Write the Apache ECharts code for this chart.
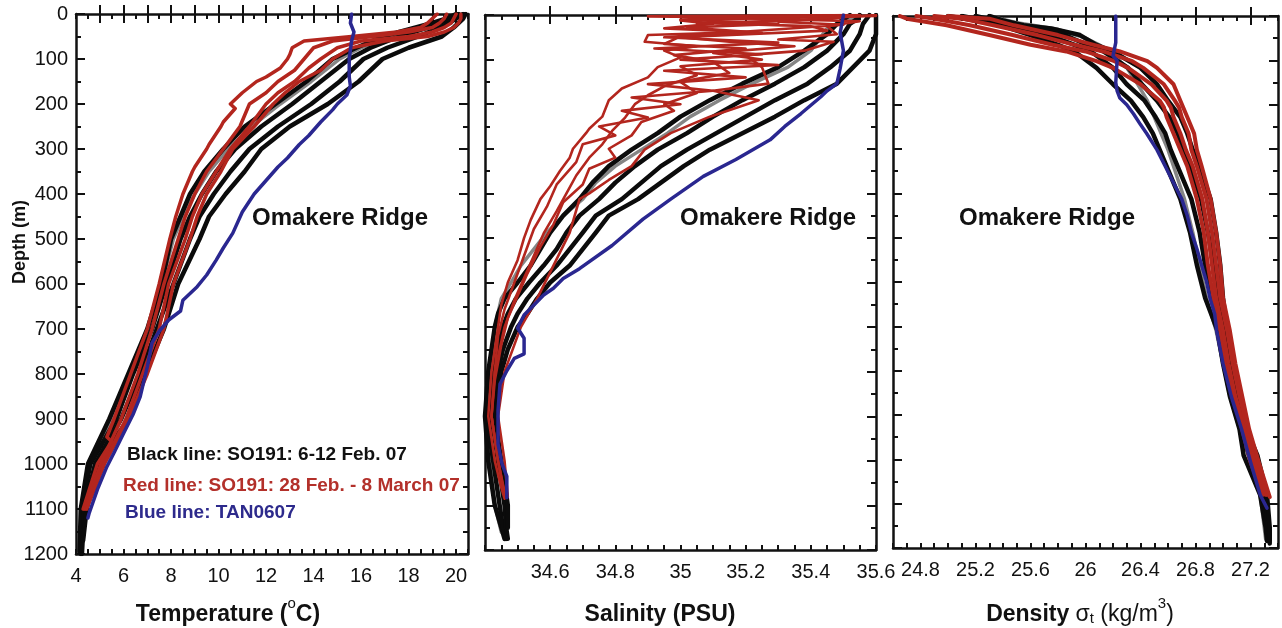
<!DOCTYPE html>
<html>
<head>
<meta charset="utf-8">
<script src="https://cdn.jsdelivr.net/npm/echarts@6/dist/echarts.min.js"></script>
<style>
  html, body { margin: 0; padding: 0; background: #fff; }
  #chart { width: 1282px; height: 628px; }
</style>
</head>
<body>
<div id="chart"></div>
<script>
// CTD profiles off Omakere Ridge. Every point is [value, depth in m].

// ---- Temperature (°C) ----
const tempBlack1 = [[20.0,0],[19.6,10],[19.0,20],[18.3,30],[16.9,50],[15.8,75],[14.8,100],[13.7,150],[12.4,200],[11.1,250],[10.2,300],[9.4,350],[8.8,400],[8.4,450],[8.0,500],[7.6,600],[7.0,700],[6.2,800],[5.4,900],[4.5,1000],[4.2,1100],[4.15,1195]];
const tempBlack2 = [[20.1,0],[19.8,10],[19.3,20],[18.8,30],[17.6,50],[16.4,75],[15.5,100],[14.3,150],[13.1,200],[11.8,250],[10.7,300],[9.9,350],[9.3,400],[8.8,450],[8.4,500],[7.8,600],[7.2,700],[6.4,800],[5.7,900],[4.6,1000],[4.25,1100],[4.2,1200]];
const tempBlack3 = [[20.3,0],[20.0,10],[19.7,20],[19.3,30],[18.4,50],[17.1,75],[16.1,100],[15.1,150],[13.9,200],[12.5,250],[11.3,300],[10.5,350],[9.8,400],[9.2,450],[8.8,500],[8.1,600],[7.4,700],[6.7,800],[5.9,900],[4.8,1000],[4.35,1100],[4.25,1200]];
const tempBlack4 = [[20.4,0],[20.3,10],[20.1,20],[19.9,30],[19.4,50],[18.0,75],[16.9,100],[15.9,150],[14.6,200],[13.0,250],[11.8,300],[11.1,350],[10.3,400],[9.6,450],[9.2,500],[8.3,600],[7.7,700],[6.9,800],[6.2,900],[4.9,1000],[4.45,1100],[4.3,1170]];
const tempGray = [[20.2,0],[19.4,20],[18.4,35],[17.2,50],[16.0,75],[15.1,100],[13.9,150],[12.6,200],[11.4,250],[10.4,300],[9.6,350],[9.0,400],[8.5,450],[8.1,500],[7.6,600],[7.1,700],[6.3,800],[5.5,900],[4.6,1000],[4.25,1100],[4.2,1180]];
const tempRed1 = [[19.2,0],[19.0,10],[18.8,20],[18.5,30],[17.5,40],[15.6,50],[13.6,60],[13.1,75],[13.0,90],[12.9,100],[12.6,120],[12.0,140],[11.6,150],[11.0,175],[10.5,200],[10.7,210],[10.2,240],[10.1,250],[9.6,290],[9.5,300],[9.0,340],[8.9,350],[8.5,400],[8.2,450],[7.95,500],[7.5,600],[7.0,700],[6.3,800],[5.6,900],[5.3,940],[5.5,950],[4.9,1000],[4.3,1100]];
const tempRed2 = [[19.6,0],[19.5,10],[19.3,20],[19.0,30],[18.0,40],[16.5,50],[14.8,60],[14.0,75],[13.6,100],[13.2,125],[12.5,150],[12.0,175],[11.3,200],[10.9,250],[10.2,300],[9.5,350],[9.0,400],[8.6,450],[8.3,500],[7.7,600],[7.2,700],[6.6,800],[5.9,900],[5.05,1000],[4.35,1100]];
const tempRed3 = [[20.0,0],[19.9,10],[19.8,20],[19.5,30],[19.0,40],[18.0,50],[16.0,60],[15.0,75],[14.3,100],[13.8,120],[13.2,150],[12.5,175],[12.0,200],[11.3,250],[10.5,300],[9.9,350],[9.3,400],[8.9,450],[8.6,500],[7.9,600],[7.5,700],[6.8,800],[6.1,900],[5.15,1000],[4.4,1100]];
const tempRed4 = [[20.2,0],[20.2,10],[20.1,20],[19.9,30],[19.5,40],[18.8,50],[17.0,60],[15.6,75],[14.8,100],[14.3,125],[13.4,150],[12.8,175],[12.3,200],[11.5,250],[10.6,300],[10.1,350],[9.5,400],[9.1,450],[8.8,500],[8.1,600],[7.7,700],[7.0,800],[6.2,900],[5.2,1000],[4.45,1100]];
const tempBlue = [[15.6,0],[15.55,20],[15.7,40],[15.6,60],[15.55,80],[15.5,100],[15.5,120],[15.5,140],[15.55,160],[15.4,180],[15.0,200],[14.8,213],[14.3,240],[13.8,270],[13.4,290],[12.9,320],[12.5,340],[12.0,370],[11.5,400],[11.0,440],[10.6,487],[10.2,520],[9.9,547],[9.5,580],[9.1,606],[8.5,636],[8.4,660],[7.9,680],[7.5,705],[7.2,731],[7.0,784],[6.7,851],[6.4,890],[6.0,932],[5.6,975],[5.3,1006],[4.9,1057],[4.55,1110],[4.5,1120]];

// ---- Salinity (PSU) ----
const salBlack1 = [[35.52,0],[35.5,10],[35.48,20],[35.45,43],[35.38,80],[35.3,117],[35.19,154],[35.09,191],[35.0,228],[34.93,265],[34.85,302],[34.78,339],[34.73,376],[34.69,413],[34.64,450],[34.6,488],[34.57,525],[34.54,562],[34.5,600],[34.46,636],[34.44,670],[34.43,700],[34.42,750],[34.41,800],[34.405,850],[34.4,900],[34.405,950],[34.41,1000],[34.42,1050],[34.43,1100],[34.45,1150],[34.46,1175]];
const salBlack2 = [[35.55,0],[35.54,10],[35.52,20],[35.5,43],[35.45,80],[35.38,117],[35.29,154],[35.19,191],[35.1,228],[35.02,265],[34.93,302],[34.86,339],[34.8,376],[34.75,413],[34.69,450],[34.65,488],[34.62,525],[34.58,562],[34.535,600],[34.495,636],[34.47,670],[34.455,700],[34.44,750],[34.425,800],[34.42,850],[34.41,900],[34.415,950],[34.425,1000],[34.435,1050],[34.445,1100],[34.455,1150],[34.465,1175]];
const salBlack3 = [[35.58,0],[35.57,10],[35.56,20],[35.55,43],[35.52,80],[35.46,117],[35.39,154],[35.29,191],[35.2,228],[35.11,265],[35.02,302],[34.94,339],[34.88,376],[34.82,413],[34.74,450],[34.7,488],[34.66,525],[34.62,562],[34.57,600],[34.53,636],[34.5,670],[34.48,700],[34.455,750],[34.44,800],[34.43,850],[34.42,900],[34.43,950],[34.44,1000],[34.45,1050],[34.46,1100],[34.465,1150],[34.47,1175]];
const salBlack4 = [[35.6,0],[35.6,10],[35.6,20],[35.6,43],[35.58,80],[35.53,117],[35.48,154],[35.38,191],[35.29,228],[35.19,265],[35.09,302],[35.01,339],[34.94,376],[34.87,413],[34.78,450],[34.74,488],[34.7,525],[34.66,562],[34.6,600],[34.56,636],[34.53,670],[34.5,700],[34.47,750],[34.45,800],[34.44,850],[34.43,900],[34.44,950],[34.45,1000],[34.46,1050],[34.47,1100],[34.47,1150]];
const salGray = [[35.55,0],[35.45,30],[35.4,80],[35.33,117],[35.22,154],[35.12,191],[35.03,228],[34.96,265],[34.88,302],[34.8,339],[34.74,376],[34.7,413],[34.64,450],[34.59,488],[34.55,525],[34.51,562],[34.48,600],[34.45,636],[34.43,700],[34.415,800],[34.41,900],[34.415,1000],[34.43,1100],[34.45,1160]];
const salRed1 = [[35.55,0],[34.9,3],[35.3,6],[35.0,12],[35.1,20],[34.95,30],[35.2,38],[34.9,45],[34.89,60],[35.05,70],[34.95,80],[35.0,95],[34.93,117],[34.9,140],[34.82,165],[34.78,191],[34.76,228],[34.72,255],[34.71,265],[34.67,300],[34.66,320],[34.63,350],[34.6,384],[34.57,413],[34.54,460],[34.52,500],[34.5,550],[34.47,600],[34.45,650],[34.44,700],[34.42,800],[34.41,900],[34.43,1000],[34.45,1060],[34.46,1085]];
const salRed2 = [[35.6,0],[35.5,5],[35.45,10],[35.05,18],[35.4,25],[35.45,35],[35.0,50],[35.15,60],[35.35,70],[35.1,85],[35.25,100],[35.0,115],[35.05,135],[34.95,160],[34.9,180],[34.86,200],[34.83,230],[34.79,260],[34.76,290],[34.72,320],[34.68,360],[34.65,400],[34.62,440],[34.58,490],[34.55,540],[34.52,590],[34.49,640],[34.46,700],[34.43,800],[34.42,900],[34.44,1000],[34.46,1080]];
const salRed3 = [[35.6,2],[35.2,8],[35.55,14],[35.45,25],[35.48,43],[35.3,55],[35.47,60],[35.38,80],[35.2,90],[35.25,117],[35.27,154],[35.1,170],[35.24,191],[35.09,228],[34.97,265],[34.89,302],[34.85,339],[34.78,370],[34.72,400],[34.69,413],[34.66,488],[34.61,562],[34.56,636],[34.51,700],[34.46,800],[34.44,900],[34.46,1000],[34.47,1080]];
const salRed4 = [[35.5,0],[35.0,10],[35.3,20],[35.02,28],[35.25,40],[35.0,48],[34.95,65],[35.2,75],[34.98,90],[35.1,105],[35.15,130],[35.0,150],[35.05,175],[34.95,200],[34.98,215],[34.88,240],[34.85,270],[34.78,300],[34.8,320],[34.72,345],[34.7,380],[34.64,420],[34.61,470],[34.57,520],[34.53,580],[34.5,630],[34.47,680],[34.45,740],[34.43,820],[34.42,900],[34.44,1000],[34.46,1070]];
const salRed5 = [[35.55,0],[35.3,15],[35.5,22],[34.95,50],[35.3,62],[34.92,75],[35.25,88],[35.0,100],[35.3,112],[34.95,125],[35.2,140],[34.9,155],[35.1,170],[34.85,185],[35.0,200],[34.82,215],[34.9,230],[34.75,250],[34.8,270],[34.7,290],[34.68,330],[34.62,380],[34.59,430],[34.55,480],[34.52,540],[34.49,600],[34.46,660],[34.44,720],[34.43,800],[34.42,900],[34.44,1000],[34.46,1075]];
const salBlue = [[35.5,0],[35.49,40],[35.5,80],[35.49,120],[35.48,154],[35.45,170],[35.43,184],[35.37,221],[35.32,250],[35.275,280],[35.17,324],[35.07,362],[34.97,413],[34.885,458],[34.79,517],[34.69,569],[34.64,591],[34.61,613],[34.58,628],[34.52,673],[34.5,702],[34.52,725],[34.52,760],[34.49,770],[34.467,798],[34.446,828],[34.44,887],[34.44,962],[34.452,1006],[34.467,1035],[34.467,1083]];

// ---- Density sigma-t (kg/m3) ----
const denBlack1 = [[25.0,0],[25.2,10],[25.4,21],[25.45,28],[25.6,43],[25.8,65],[25.92,80],[26.08,117],[26.2,154],[26.33,191],[26.42,228],[26.49,265],[26.54,302],[26.59,339],[26.69,413],[26.76,488],[26.81,562],[26.87,636],[26.96,710],[27.0,784],[27.05,858],[27.12,932],[27.15,991],[27.22,1043],[27.27,1080],[27.31,1154],[27.32,1184]];
const denBlack2 = [[25.1,0],[25.27,10],[25.45,21],[25.55,28],[25.73,43],[25.92,65],[26.04,80],[26.2,117],[26.3,154],[26.43,191],[26.51,228],[26.58,265],[26.62,302],[26.67,339],[26.77,413],[26.83,488],[26.87,562],[26.92,636],[26.98,710],[27.03,784],[27.07,858],[27.14,932],[27.19,991],[27.24,1043],[27.29,1080],[27.32,1154],[27.33,1184]];
const denBlack3 = [[25.2,0],[25.34,10],[25.5,21],[25.66,28],[25.85,43],[26.01,65],[26.13,80],[26.31,117],[26.41,154],[26.52,191],[26.61,228],[26.67,265],[26.71,302],[26.76,339],[26.84,413],[26.89,488],[26.93,562],[26.96,636],[27.01,710],[27.06,784],[27.1,858],[27.16,932],[27.22,991],[27.27,1043],[27.3,1080],[27.33,1154],[27.34,1190]];
const denBlack4 = [[25.3,0],[25.4,10],[25.55,21],[25.75,28],[25.96,43],[26.08,65],[26.2,80],[26.4,117],[26.52,154],[26.6,191],[26.69,228],[26.74,265],[26.78,302],[26.83,339],[26.91,413],[26.95,488],[26.98,562],[27.0,636],[27.03,710],[27.08,784],[27.12,858],[27.17,932],[27.25,991],[27.29,1043],[27.32,1080],[27.34,1154],[27.34,1184]];
const denGray = [[25.3,0],[25.5,15],[25.8,30],[26.0,50],[26.1,65],[26.2,85],[26.3,117],[26.38,154],[26.45,191],[26.5,228],[26.55,265],[26.6,302],[26.64,339],[26.72,413],[26.78,488],[26.83,562],[26.88,636],[26.95,710],[27.0,784],[27.05,858],[27.12,932],[27.2,1006],[27.27,1080],[27.3,1154],[27.31,1180]];
const denRed1 = [[24.65,0],[24.7,6],[24.99,21],[25.3,43],[25.6,65],[25.86,80],[26.08,102],[26.2,117],[26.4,154],[26.54,191],[26.57,206],[26.59,228],[26.64,265],[26.69,302],[26.74,339],[26.81,413],[26.86,488],[26.89,562],[26.93,636],[26.98,710],[27.02,784],[27.07,858],[27.14,932],[27.2,1006],[27.29,1080]];
const denRed2 = [[24.77,0],[24.9,6],[25.16,21],[25.47,43],[25.76,65],[26.0,80],[26.21,102],[26.31,117],[26.48,154],[26.59,191],[26.62,206],[26.64,228],[26.69,265],[26.73,302],[26.78,339],[26.85,413],[26.89,488],[26.92,562],[26.95,636],[27.0,710],[27.04,784],[27.09,858],[27.16,932],[27.22,1006],[27.31,1080]];
const denRed3 = [[24.9,0],[25.1,6],[25.33,21],[25.65,43],[25.92,65],[26.13,80],[26.34,102],[26.42,117],[26.57,154],[26.65,191],[26.68,206],[26.7,228],[26.75,265],[26.77,302],[26.81,339],[26.88,413],[26.92,488],[26.95,562],[26.98,636],[27.03,710],[27.07,784],[27.12,858],[27.18,932],[27.24,1006],[27.32,1080]];
const denRed4 = [[25.0,0],[25.3,6],[25.48,21],[25.8,43],[26.06,65],[26.25,80],[26.45,102],[26.52,117],[26.64,154],[26.69,191],[26.71,206],[26.74,228],[26.79,265],[26.81,302],[26.845,339],[26.91,413],[26.95,488],[26.98,562],[27.0,636],[27.05,710],[27.09,784],[27.14,858],[27.19,932],[27.26,1006],[27.34,1085]];
const denBlue = [[26.22,0],[26.22,60],[26.2,90],[26.23,100],[26.22,150],[26.23,169],[26.25,185],[26.3,200],[26.35,221],[26.4,245],[26.445,265],[26.52,302],[26.58,339],[26.64,376],[26.7,413],[26.74,450],[26.77,488],[26.81,525],[26.845,562],[26.88,599],[26.905,636],[26.94,673],[26.954,710],[27.0,784],[27.06,858],[27.135,932],[27.2,1006],[27.27,1080],[27.32,1110]];

// ---- Axis ticks and labels ----
const depthLabels = [0,100,200,300,400,500,600,700,800,900,1000,1100,1200];
const tempLabels = [4,6,8,10,12,14,16,18,20];
const tempMajor = [5,6,7,8,9,10,11,12,13,14,15,16,17,18,19,20];
const salLabels = [34.6,34.8,35,35.2,35.4,35.6];
const salMajor = [34.6,34.8,35,35.2,35.4];
const denLabels = [24.8,25.2,25.6,26,26.4,26.8,27.2];

const FONT = '"Liberation Sans", Arial, Helvetica, sans-serif';
const INK = '#111111';
const C_BLACK = '#0b0b0b', C_GRAY = '#858585', C_RED = '#b3261e', C_BLUE = '#2a2790';

const panels = [
  { left: 76,  top: 14, width: 392, height: 540, min: 4,    max: 20.5, step: 0.5,  major: tempMajor, labels: tempLabels },
  { left: 485, top: 15, width: 391, height: 535, min: 34.4, max: 35.6, step: 0.05, major: salMajor,  labels: salLabels },
  { left: 893, top: 16, width: 385, height: 532, min: 24.6, max: 27.4, step: 0.1,  major: denLabels, labels: denLabels }
];

const frameLine = { show: true, onZero: false, lineStyle: { color: INK, width: 2.5 } };
const tickStyle = { color: INK, width: 2 };
const plainNumber = (v) => String(Math.round(v * 100) / 100);

const grids = [], xAxes = [], yAxes = [];
panels.forEach((p, g) => {
  grids.push({ left: p.left, top: p.top, width: p.width, height: p.height, outerBoundsMode: 'none', containLabel: false });
  const xb = { type: 'value', gridIndex: g, min: p.min, max: p.max, splitLine: { show: false }, axisLabel: { show: false }, axisTick: { show: false }, axisLine: { show: false } };
  // bottom: frame, labels and fine ticks; then long ticks
  xAxes.push(Object.assign({}, xb, { position: 'bottom', interval: p.step, axisLine: frameLine,
    axisTick: { show: true, inside: true, length: 5, lineStyle: tickStyle },
    axisLabel: { show: true, customValues: p.labels, formatter: plainNumber, margin: 12, fontSize: 20, color: INK, fontFamily: FONT } }));
  xAxes.push(Object.assign({}, xb, { position: 'bottom',
    axisTick: { show: true, inside: true, length: 9, customValues: p.major, lineStyle: tickStyle } }));
  // top edge
  xAxes.push(Object.assign({}, xb, { position: 'top', interval: p.step, axisLine: frameLine,
    axisTick: { show: true, inside: true, length: 5, lineStyle: tickStyle } }));
  xAxes.push(Object.assign({}, xb, { position: 'top',
    axisTick: { show: true, inside: true, length: 9, customValues: p.major, lineStyle: tickStyle } }));

  const yb = { type: 'value', gridIndex: g, min: 0, max: 1200, inverse: true, splitLine: { show: false }, axisLabel: { show: false }, axisTick: { show: false }, axisLine: { show: false } };
  yAxes.push(Object.assign({}, yb, { position: 'left', interval: 50, axisLine: frameLine,
    axisTick: { show: true, inside: true, length: 5, lineStyle: tickStyle },
    axisLabel: { show: g === 0, customValues: depthLabels, formatter: plainNumber, margin: 8, fontSize: 20, color: INK, fontFamily: FONT } }));
  yAxes.push(Object.assign({}, yb, { position: 'left',
    axisTick: { show: true, inside: true, length: 9, customValues: depthLabels, lineStyle: tickStyle } }));
  yAxes.push(Object.assign({}, yb, { position: 'right', interval: 50, axisLine: frameLine,
    axisTick: { show: true, inside: true, length: 5, lineStyle: tickStyle } }));
  yAxes.push(Object.assign({}, yb, { position: 'right',
    axisTick: { show: true, inside: true, length: 9, customValues: depthLabels, lineStyle: tickStyle } }));
});

function profile(g, data, color, width, z) {
  return { type: 'line', xAxisIndex: 4 * g, yAxisIndex: 4 * g, data: data, symbol: 'none', showSymbol: false,
    silent: true, z: z, lineStyle: { color: color, width: width, join: 'round', cap: 'round' } };
}

const series = [
  profile(0, tempGray, C_GRAY, 3.5, 2),
  profile(0, tempBlack1, C_BLACK, 4.5, 3), profile(0, tempBlack2, C_BLACK, 4.5, 3),
  profile(0, tempBlack3, C_BLACK, 4.5, 3), profile(0, tempBlack4, C_BLACK, 4.5, 3),
  profile(0, tempRed1, C_RED, 3.5, 4), profile(0, tempRed2, C_RED, 3.5, 4),
  profile(0, tempRed3, C_RED, 3.5, 4), profile(0, tempRed4, C_RED, 3.5, 4),
  profile(0, tempBlue, C_BLUE, 3.5, 5),

  profile(1, salGray, C_GRAY, 3.5, 2),
  profile(1, salBlack1, C_BLACK, 4.5, 3), profile(1, salBlack2, C_BLACK, 4.5, 3),
  profile(1, salBlack3, C_BLACK, 4.5, 3), profile(1, salBlack4, C_BLACK, 4.5, 3),
  profile(1, salRed1, C_RED, 2.6, 4), profile(1, salRed2, C_RED, 2.6, 4),
  profile(1, salRed3, C_RED, 2.6, 4), profile(1, salRed4, C_RED, 2.6, 4),
  profile(1, salRed5, C_RED, 2.6, 4),
  profile(1, salBlue, C_BLUE, 3.5, 5),

  profile(2, denGray, C_GRAY, 3.5, 2),
  profile(2, denBlack1, C_BLACK, 4.5, 3), profile(2, denBlack2, C_BLACK, 4.5, 3),
  profile(2, denBlack3, C_BLACK, 4.5, 3), profile(2, denBlack4, C_BLACK, 4.5, 3),
  profile(2, denRed1, C_RED, 4, 4), profile(2, denRed2, C_RED, 4, 4),
  profile(2, denRed3, C_RED, 4, 4), profile(2, denRed4, C_RED, 4, 4),
  profile(2, denBlue, C_BLUE, 3.5, 5)
];

function label(x, y, text, size, color, align, extra) {
  return Object.assign({ type: 'text', x: x, y: y, z: 100, silent: true,
    style: { text: text, fill: color, font: 'bold ' + size + 'px ' + FONT,
      textAlign: align, align: align, textVerticalAlign: 'middle', verticalAlign: 'middle' } }, extra || {});
}

const bold = (s) => ({ fontFamily: FONT, fontWeight: 'bold', fontSize: s, fill: INK, lineHeight: 30, verticalAlign: 'bottom' });
const plain = (s) => ({ fontFamily: FONT, fontWeight: 'normal', fontSize: s, fill: INK, lineHeight: 30, verticalAlign: 'bottom' });
const sup = { fontFamily: FONT, fontWeight: 'normal', fontSize: 15, fill: INK, lineHeight: 15, verticalAlign: 'top' };
const sub = { fontFamily: FONT, fontWeight: 'normal', fontSize: 15, fill: INK, lineHeight: 14, verticalAlign: 'bottom' };

function richTitle(x, y, text, rich) {
  return { type: 'text', x: x, y: y, z: 100, silent: true,
    style: { text: text, rich: rich, textAlign: 'center', align: 'center', textVerticalAlign: 'middle', verticalAlign: 'middle' } };
}

const graphic = [
  label(20, 242, 'Depth (m)', 18, INK, 'center', { rotation: Math.PI / 2 }),
  label(340, 218, 'Omakere Ridge', 24, INK, 'center'),
  label(768, 218, 'Omakere Ridge', 24, INK, 'center'),
  label(1047, 218, 'Omakere Ridge', 24, INK, 'center'),
  label(127, 455, 'Black line: SO191: 6-12 Feb. 07', 19, '#111111', 'left'),
  label(123, 486, 'Red line: SO191: 28 Feb. - 8 March 07', 19, '#b3302a', 'left'),
  label(125, 513, 'Blue line: TAN0607', 19, '#2d2a8c', 'left'),
  richTitle(228, 611, '{b|Temperature (}{s|o}{b|C)}', { b: bold(23), s: sup }),
  richTitle(660, 611, '{b|Salinity (PSU)}', { b: bold(23) }),
  richTitle(1080, 611, '{b|Density }{p|σ}{t|t}{p| (kg/m}{s|3}{p|)}', { b: bold(23), p: plain(23), t: sub, s: sup })
];

const chart = echarts.init(document.getElementById('chart'), null, { renderer: 'canvas' });
chart.setOption({
  backgroundColor: '#ffffff',
  animation: false,
  grid: grids,
  xAxis: xAxes,
  yAxis: yAxes,
  series: series,
  graphic: graphic
});
</script>
</body>
</html>
